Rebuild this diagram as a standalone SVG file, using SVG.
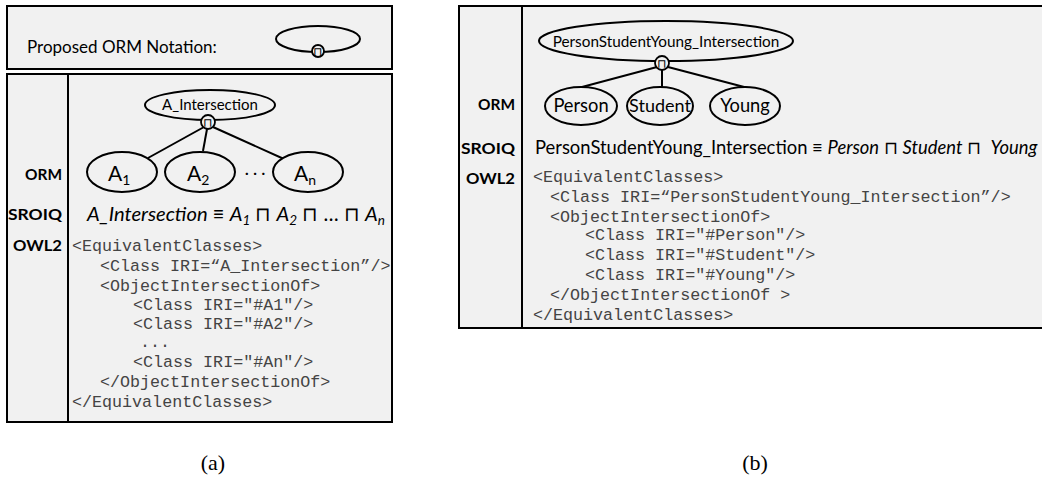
<svg xmlns="http://www.w3.org/2000/svg" width="1042" height="484" viewBox="0 0 1042 484">
<style>
.box{fill:#f1f1f1;stroke:#000;stroke-width:2}
.div{stroke:#000;stroke-width:2}
.ell{fill:#f1f1f1;stroke:#000;stroke-width:2}
.dot{fill:#f1f1f1;stroke:#000;stroke-width:1.8}
.con{stroke:#000;stroke-width:2;fill:none}
.lab{font-family:Lato,"Open Sans",sans-serif;fill:#000}
.row{font-family:Lato,"Open Sans",sans-serif;font-weight:bold;font-size:16px;text-anchor:end;fill:#000}
.sym{font-family:"DejaVu Sans",sans-serif;font-size:12px;text-anchor:middle;fill:#000}
.code{font-family:"Liberation Mono",monospace;font-size:16.7px;fill:#444}
.cap{font-family:"Liberation Serif",serif;font-size:22px;text-anchor:middle;fill:#000}
.it{font-style:italic}
</style>

<!-- Panel (a) -->
<g id="a-notation">
  <rect class="box" x="7" y="6" width="385" height="63"/>
  <text class="lab" x="27" y="53" font-size="17">Proposed ORM Notation:</text>
  <ellipse class="ell" cx="318" cy="39" rx="42" ry="13"/>
  <circle class="dot" cx="318" cy="51" r="6"/>
  <text class="sym" x="318" y="55.5" font-size="11">⊓</text>
</g>

<g id="a-frame">
  <rect class="box" x="7" y="74" width="385" height="348"/>
  <line class="div" x1="68" y1="74" x2="68" y2="422"/>
  <text class="row" x="62" y="180" textLength="37" lengthAdjust="spacingAndGlyphs">ORM</text>
  <text class="row" x="62" y="220" textLength="54" lengthAdjust="spacingAndGlyphs">SROIQ</text>
  <text class="row" x="62" y="251" textLength="49" lengthAdjust="spacingAndGlyphs">OWL2</text>
</g>

<g id="a-connectors">
  <line class="con" x1="204" y1="127" x2="148" y2="158"/>
  <line class="con" x1="207" y1="129" x2="203" y2="151"/>
  <line class="con" x1="213" y1="127" x2="284" y2="159"/>
</g>

<g id="a-intersection">
  <ellipse class="ell" cx="210" cy="105" rx="65" ry="15"/>
  <text class="lab" x="210" y="110" font-size="15" text-anchor="middle">A_Intersection</text>
  <circle class="dot" cx="208" cy="122" r="7"/>
  <text class="sym" x="208" y="127">⊓</text>
</g>

<g id="a-A1">
  <ellipse class="ell" cx="122" cy="172" rx="35" ry="20"/>
  <text class="lab" x="108" y="181" font-size="21">A<tspan font-size="14" dy="4">1</tspan></text>
</g>
<g id="a-A2">
  <ellipse class="ell" cx="200" cy="172" rx="35" ry="20"/>
  <text class="lab" x="187" y="181" font-size="21">A<tspan font-size="14" dy="4">2</tspan></text>
</g>
<text class="lab" x="255" y="178" font-size="16" text-anchor="middle">· · ·</text>
<g id="a-An">
  <ellipse class="ell" cx="308" cy="172" rx="35" ry="20"/>
  <text class="lab" x="294" y="181" font-size="21">A<tspan font-size="14" dy="4">n</tspan></text>
</g>

<g id="a-sroiq">
  <text class="lab" x="87" y="221" font-size="20.2"><tspan class="it">A_Intersection</tspan> ≡ <tspan class="it">A</tspan><tspan class="it" font-size="13.5" dy="4">1</tspan><tspan dy="-4"> ⊓ </tspan><tspan class="it">A</tspan><tspan class="it" font-size="13.5" dy="4">2</tspan><tspan dy="-4"> ⊓ … ⊓ </tspan><tspan class="it">A</tspan><tspan class="it" font-size="13.5" dy="4">n</tspan></text>
</g>

<g id="a-owl2">
  <text class="code" x="72" y="251">&lt;EquivalentClasses&gt;</text>
  <text class="code" x="100" y="271">&lt;Class IRI=“A_Intersection”/&gt;</text>
  <text class="code" x="100" y="291">&lt;ObjectIntersectionOf&gt;</text>
  <text class="code" x="133" y="310">&lt;Class IRI="#A1"/&gt;</text>
  <text class="code" x="133" y="329">&lt;Class IRI="#A2"/&gt;</text>
  <text class="code" x="140" y="347">...</text>
  <text class="code" x="133" y="367">&lt;Class IRI="#An"/&gt;</text>
  <text class="code" x="100" y="387">&lt;/ObjectIntersectionOf&gt;</text>
  <text class="code" x="72" y="407">&lt;/EquivalentClasses&gt;</text>
</g>

<!-- Panel (b) -->
<g id="b-frame">
  <rect class="box" x="459" y="6" width="600" height="322"/>
  <line class="div" x1="522" y1="6" x2="522" y2="328"/>
  <text class="row" x="515" y="110" textLength="37" lengthAdjust="spacingAndGlyphs">ORM</text>
  <text class="row" x="515" y="154" textLength="54" lengthAdjust="spacingAndGlyphs">SROIQ</text>
  <text class="row" x="515" y="184" textLength="49" lengthAdjust="spacingAndGlyphs">OWL2</text>
</g>

<g id="b-connectors">
  <line class="con" x1="657" y1="67" x2="582" y2="87"/>
  <line class="con" x1="662" y1="70" x2="662" y2="88"/>
  <line class="con" x1="668" y1="67" x2="748" y2="88"/>
</g>

<g id="b-intersection">
  <ellipse class="ell" cx="666" cy="41" rx="127" ry="20"/>
  <text class="lab" x="666" y="47" font-size="15.3" text-anchor="middle">PersonStudentYoung_Intersection</text>
  <circle class="dot" cx="662" cy="63" r="7"/>
  <text class="sym" x="662" y="68">⊓</text>
</g>

<g id="b-person">
  <ellipse class="ell" cx="581" cy="106" rx="36" ry="19"/>
  <text class="lab" x="581" y="112" font-size="18.3" text-anchor="middle">Person</text>
</g>
<g id="b-student">
  <ellipse class="ell" cx="660" cy="106" rx="33" ry="19"/>
  <text class="lab" x="660" y="112" font-size="18" text-anchor="middle">Student</text>
</g>
<g id="b-young">
  <ellipse class="ell" cx="745" cy="106" rx="35" ry="19"/>
  <text class="lab" x="745" y="112" font-size="18.3" text-anchor="middle">Young</text>
</g>

<g id="b-sroiq">
  <text class="lab" x="535" y="154" font-size="18.4" xml:space="preserve">PersonStudentYoung_Intersection ≡ <tspan class="it">Person</tspan> ⊓ <tspan class="it">Student</tspan> ⊓  <tspan class="it">Young</tspan></text>
</g>

<g id="b-owl2">
  <text class="code" x="533" y="182">&lt;EquivalentClasses&gt;</text>
  <text class="code" x="550" y="202">&lt;Class IRI=“PersonStudentYoung_Intersection”/&gt;</text>
  <text class="code" x="550" y="222">&lt;ObjectIntersectionOf&gt;</text>
  <text class="code" x="585" y="240">&lt;Class IRI="#Person"/&gt;</text>
  <text class="code" x="585" y="260">&lt;Class IRI="#Student"/&gt;</text>
  <text class="code" x="585" y="280">&lt;Class IRI="#Young"/&gt;</text>
  <text class="code" x="550" y="300">&lt;/ObjectIntersectionOf &gt;</text>
  <text class="code" x="533" y="320">&lt;/EquivalentClasses&gt;</text>
</g>

<text class="cap" x="213" y="470">(a)</text>
<text class="cap" x="755" y="470">(b)</text>
</svg>
